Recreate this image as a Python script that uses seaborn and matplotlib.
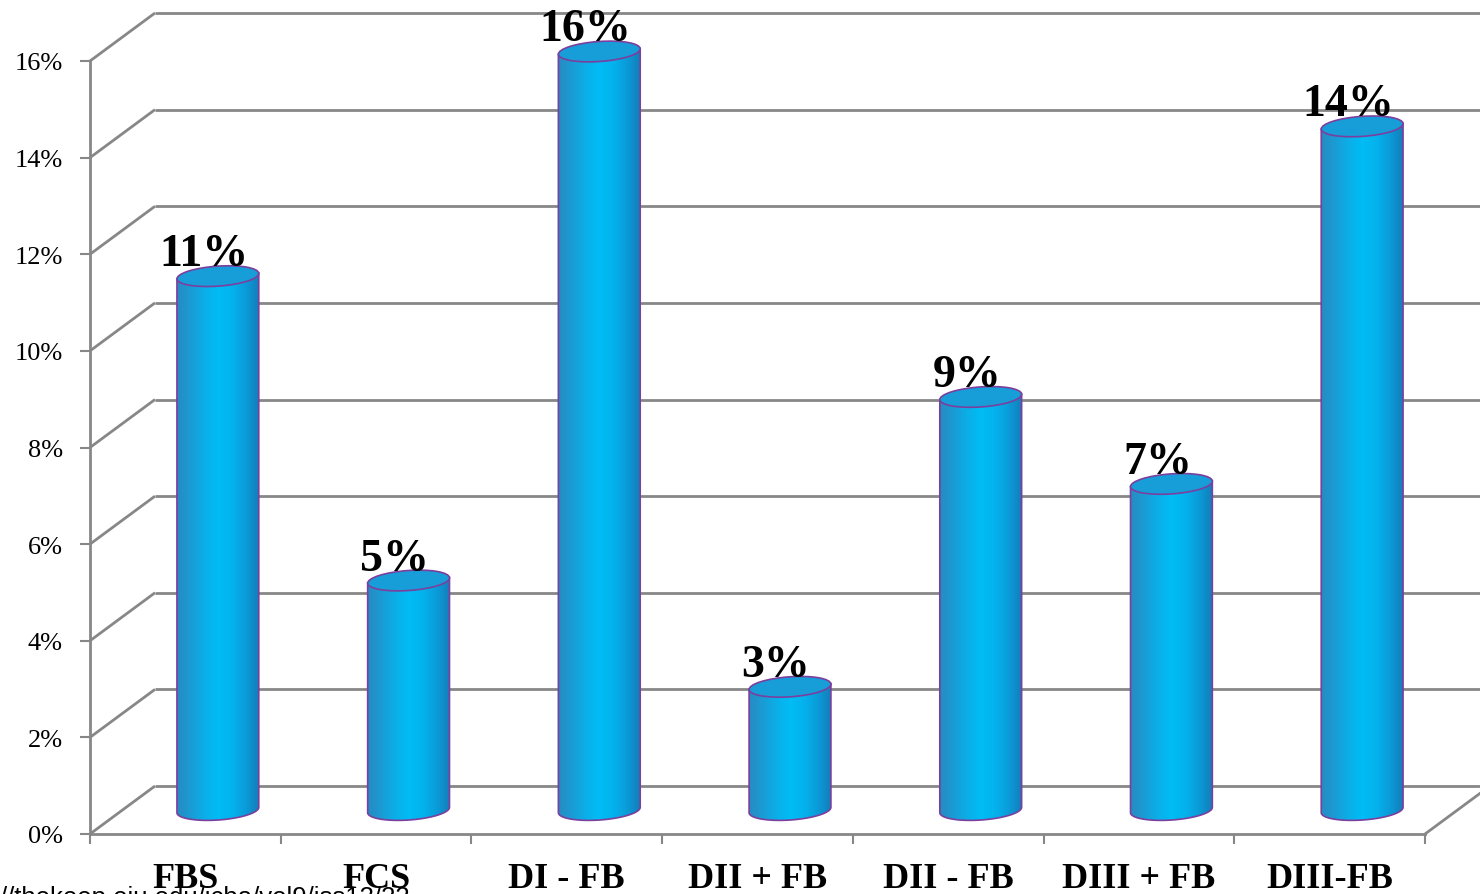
import numpy as np
import pandas as pd
import matplotlib
matplotlib.use("Agg")
import matplotlib.pyplot as plt
import matplotlib.transforms as mtransforms
from matplotlib.patches import Ellipse, PathPatch
from matplotlib.path import Path
from matplotlib.lines import Line2D
from matplotlib.colors import LinearSegmentedColormap
import seaborn as sns

# Share of institutions per division group
categories = ["FBS", "FCS", "DI - FB", "DII + FB", "DII - FB", "DIII + FB", "DIII-FB"]
shares = [11.05, 4.75, 15.7, 2.55, 8.55, 6.75, 14.15]
y_ticks = [0, 2, 4, 6, 8, 10, 12, 14, 16]
y_tick_labels = [f"{t}%" for t in y_ticks]
source_note = "//thekeep.eiu.edu/jcba/vol9/iss13/22"

sns.set_theme(style="white")
plt.rcParams["font.family"] = ["Liberation Serif", "DejaVu Serif"]
plt.rcParams["text.color"] = "black"

W, H, DPI = 1480, 895, 100
fig = plt.figure(figsize=(W / DPI, H / DPI), dpi=DPI)
fig.patch.set_facecolor("white")
# front plane of the 3-D box
ax = fig.add_axes([90 / W, 60 / H, 1335 / W, 773 / H])
ax.set_facecolor("none")

df = pd.DataFrame({"segment": categories, "share": shares})
sns.barplot(data=df, x="segment", y="share", order=categories, width=0.43,
            color="#0aaee6", saturation=1, ax=ax)

ax.set_xlim(-0.5, len(categories) - 0.5)
ax.set_ylim(y_ticks[0], y_ticks[-1])
ax.set_xlabel("")
ax.set_ylabel("")

GRID = "#878787"
RIM = "#7b3f9e"
DEPTH = np.array([65.0, 48.0])          # depth of the box in pixels
ident = mtransforms.IdentityTransform()


def to_px(x, y, depth=0.0):
    """Data point on the front plane, pushed back by a fraction of the box depth."""
    return ax.transData.transform((x, y)) + depth * DEPTH


def seg(p, q):
    ax.add_line(Line2D([p[0], q[0]], [p[1], q[1]], transform=ident, clip_on=False,
                       color=GRID, lw=2, solid_capstyle="butt", zorder=1))


x_lo, x_hi = ax.get_xlim()
for t in y_ticks:
    seg(to_px(x_lo, t), to_px(x_lo, t, 1))        # side wall
    seg(to_px(x_lo, t, 1), to_px(x_hi, t, 1))     # back wall
seg(to_px(x_hi, 0), to_px(x_hi, 0, 1))            # floor, right edge

ax.spines[["top", "right"]].set_visible(False)
for s in ("left", "bottom"):
    ax.spines[s].set_color(GRID)
    ax.spines[s].set_linewidth(2)

ax.set_yticks(y_ticks, y_tick_labels)
ax.tick_params(axis="y", left=True, length=7.5, width=1.5, color=GRID,
               labelsize=19, pad=12, labelcolor="black")
ax.set_xticks(range(len(categories)), categories)
ax.set_xticks(np.arange(-0.5, len(categories)), minor=True)
ax.tick_params(axis="x", which="major", bottom=False, length=0, pad=20,
               labelsize=26, labelcolor="black")
ax.tick_params(axis="x", which="minor", bottom=True, length=7.5, width=1.5, color=GRID)
for lbl in ax.get_xticklabels():
    lbl.set_fontweight("bold")

# cylinders
cmap = LinearSegmentedColormap.from_list(
    "cyl", ["#2a88bf", "#1c9ad2", "#0caee7", "#00bcf5", "#04b2ec", "#0b98d6", "#1677b2"])
grad = np.linspace(0, 1, 256)[None, :]
TILT = np.deg2rad(4)
RIM_H = 10.0


def rim_pts(c, a, t):
    x = a * np.cos(t)
    y = RIM_H * np.sin(t)
    return np.column_stack([c[0] + x * np.cos(TILT) - y * np.sin(TILT),
                            c[1] + x * np.sin(TILT) + y * np.cos(TILT)])


for bar, value in zip(list(ax.patches), shares):
    bar.set_visible(False)
    x0, w, h = bar.get_x(), bar.get_width(), bar.get_height()
    xc = x0 + w / 2
    base = to_px(xc, 0, 0.5)
    top = to_px(xc, h, 0.5)
    a = (to_px(x0 + w, 0)[0] - to_px(x0, 0)[0]) / 2

    arc = rim_pts(base, a, np.linspace(np.pi, 2 * np.pi, 80))
    left_top = rim_pts(top, a, np.array([np.pi]))
    right_top = rim_pts(top, a, np.array([0.0]))
    verts = np.vstack([left_top, arc, right_top, left_top])
    codes = [Path.MOVETO] + [Path.LINETO] * (len(verts) - 2) + [Path.CLOSEPOLY]
    body = PathPatch(Path(verts, codes), transform=ident, facecolor="none",
                     edgecolor=RIM, lw=1.2, clip_on=False, zorder=3)
    ax.add_patch(body)

    im = ax.imshow(grad, cmap=cmap, aspect="auto", interpolation="bilinear",
                   extent=(base[0] - a - 2, base[0] + a + 2,
                           arc[:, 1].min() - 2, right_top[0, 1] + 2),
                   transform=ident, zorder=2.5)
    im.set_clip_path(body)
    im.set_clip_box(fig.bbox)

    ax.add_patch(Ellipse(top, 2 * a, 2 * RIM_H, angle=np.rad2deg(TILT), transform=ident,
                         facecolor="#179dd8", edgecolor=RIM, lw=1.2,
                         clip_on=False, zorder=4))

    ax.text(top[0] - 14, top[1] + 11, f"{value:.0f}%", transform=ident,
            ha="center", va="baseline", fontsize=33, fontweight="bold",
            color="black", zorder=5, clip_on=False)

ax.set_xlim(x_lo, x_hi)
ax.set_ylim(y_ticks[0], y_ticks[-1])

fig.text(0, (H - 905) / H, source_note, fontsize=18.5, family="Liberation Sans",
         ha="left", va="baseline", color="black")

fig.savefig("out.png", dpi=DPI)
